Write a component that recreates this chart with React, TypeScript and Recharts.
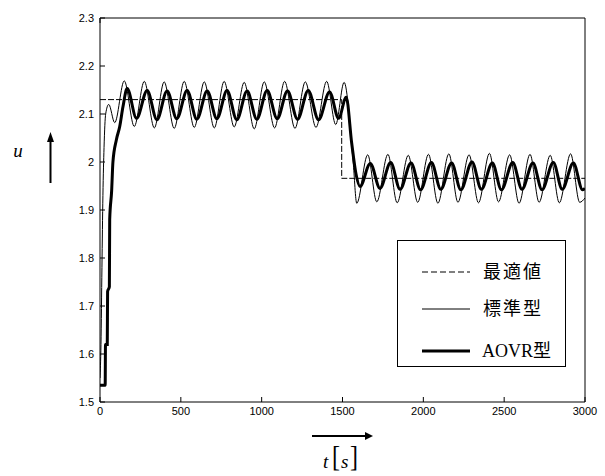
import React from 'react';
import { LineChart, Line, XAxis, YAxis, Legend } from 'recharts';

const X_TICKS = [0, 500, 1000, 1500, 2000, 2500, 3000];
const X_TICK_LABELS = ['0', '500', '1000', '1500', '2000', '2500', '3000'];
const Y_TICKS = [1.5, 1.6, 1.7, 1.8, 1.9, 2.0, 2.1, 2.2, 2.3];
const Y_TICK_LABELS = ['1.5', '1.6', '1.7', '1.8', '1.9', '2', '2.1', '2.2', '2.3'];

const SERIES_NAMES = ['最適値', '標準型', 'AOVR型'];

// 最適値 (step)
const optT = [0, 1495, 1495, 3000];
const optU = [2.13, 2.13, 1.966, 1.966];

// 標準型
const stdT = [
  0, 6, 12, 18, 25, 35, 54, 91, 150, 212, 274, 336, 397, 459, 521, 583, 645, 707, 768, 830,
  892, 954, 1016, 1080, 1142, 1206, 1270, 1336, 1402, 1458, 1510, 1566, 1588, 1656, 1712, 1781,
  1838, 1907, 1965, 2032, 2090, 2158, 2214, 2283, 2341, 2409, 2465, 2534, 2592, 2660, 2716,
  2785, 2841, 2911, 2967, 3000,
];
const stdU = [
  1.55, 1.62, 1.78, 1.93, 2.03, 2.1, 2.12, 2.082, 2.169, 2.074, 2.168, 2.071, 2.167, 2.07, 2.168,
  2.072, 2.167, 2.071, 2.168, 2.073, 2.166, 2.069, 2.167, 2.071, 2.168, 2.07, 2.167, 2.072, 2.168,
  2.078, 2.166, 2.0, 1.914, 2.015, 1.917, 2.016, 1.915, 2.014, 1.916, 2.016, 1.914, 2.017, 1.916,
  2.015, 1.915, 2.018, 1.917, 2.015, 1.914, 2.016, 1.916, 2.014, 1.915, 2.017, 1.916, 1.925,
];

// AOVR型
const aovrT = [
  0, 32, 34, 45, 47, 58, 60, 72, 80, 101, 122, 142, 168, 226, 292, 352, 415, 475, 539, 599, 663,
  723, 786, 846, 910, 970, 1034, 1096, 1160, 1222, 1288, 1352, 1420, 1476, 1523, 1557, 1583,
  1608, 1672, 1732, 1798, 1856, 1924, 1983, 2050, 2108, 2175, 2232, 2301, 2359, 2427, 2483,
  2553, 2610, 2678, 2734, 2804, 2859, 2928, 2985, 3000,
];
const aovrU = [
  1.535, 1.535, 1.62, 1.62, 1.73, 1.74, 1.88, 1.94, 2.0, 2.046, 2.074, 2.115, 2.153, 2.091, 2.149,
  2.088, 2.148, 2.09, 2.149, 2.089, 2.148, 2.09, 2.149, 2.088, 2.148, 2.089, 2.149, 2.09, 2.148,
  2.089, 2.149, 2.088, 2.146, 2.091, 2.135, 2.039, 1.976, 1.949, 1.997, 1.945, 1.999, 1.943,
  1.998, 1.942, 1.999, 1.943, 1.998, 1.942, 2.0, 1.943, 1.998, 1.942, 1.999, 1.943, 1.998,
  1.942, 1.999, 1.943, 1.998, 1.942, 1.945,
];

const zip = (ts: number[], us: number[]) => ts.map((t, i) => ({ t, u: us[i] }));

const optData = zip(optT, optU);
const stdData = zip(stdT, stdU);
const aovrData = zip(aovrT, aovrU);

const TICK_FONT = { fontFamily: '"Liberation Sans", Arial, sans-serif', fontSize: 11, fill: '#000' };

const BottomTick = ({ x, y, payload }: any) => {
  const i = X_TICKS.indexOf(payload.value);
  return (
    <g>
      <line x1={x} x2={x} y1={y} y2={y - 5} stroke="#000" />
      <text x={x} y={y + 13} textAnchor="middle" style={TICK_FONT}>
        {X_TICK_LABELS[i]}
      </text>
    </g>
  );
};

const TopTick = ({ x, y }: any) => <line x1={x} x2={x} y1={y} y2={y + 5} stroke="#000" />;

const LeftTick = ({ x, y, payload }: any) => {
  const i = Y_TICKS.findIndex((v) => Math.abs(v - payload.value) < 1e-6);
  return (
    <g>
      <line x1={x} x2={x + 5} y1={y} y2={y} stroke="#000" />
      <text x={x - 6} y={y + 4} textAnchor="end" style={TICK_FONT}>
        {Y_TICK_LABELS[i]}
      </text>
    </g>
  );
};

const RightTick = ({ x, y }: any) => <line x1={x} x2={x - 5} y1={y} y2={y} stroke="#000" />;

const legendRows = [
  { name: SERIES_NAMES[0], dash: '6 3', width: 1.2, y: 32 },
  { name: SERIES_NAMES[1], dash: undefined, width: 1, y: 69 },
  { name: SERIES_NAMES[2], dash: undefined, width: 3.2, y: 111 },
];

const renderLegend = () => (
  <svg width={169} height={127} style={{ display: 'block' }}>
    <rect x={0.5} y={0.5} width={168} height={126} fill="#fff" stroke="#000" />
    {legendRows.map((r, i) => (
      <g key={i}>
        <line x1={25} x2={73} y1={r.y} y2={r.y} stroke="#000" strokeWidth={r.width} strokeDasharray={r.dash} />
        {i < 2 ? (
          <text x={86} y={r.y + 6} style={{ fontFamily: '"Noto Sans CJK JP"', fontSize: 18, letterSpacing: 2 }}>
            {r.name}
          </text>
        ) : (
          <text x={85} y={r.y + 6} style={{ fontSize: 18 }}>
            <tspan style={{ fontFamily: '"Liberation Serif", serif' }}>AOVR</tspan>
            <tspan style={{ fontFamily: '"Noto Sans CJK JP"' }}>型</tspan>
          </text>
        )}
      </g>
    ))}
  </svg>
);

const App = () => {
  return (
    <div style={{ position: 'absolute', left: 0, top: 0, width: 605, height: 476, background: '#fff' }}>
      <LineChart width={605} height={476} data={stdData} margin={{ top: 17, right: 19, bottom: 73, left: 99 }}>
        <XAxis
          dataKey="t"
          type="number"
          domain={[0, 3000]}
          ticks={X_TICKS}
          allowDataOverflow
          height={1}
          tickSize={0}
          tickMargin={0}
          tickLine={false}
          axisLine={{ stroke: '#000' }}
          tick={BottomTick}
          interval={0}
        />
        <XAxis
          xAxisId="top"
          orientation="top"
          type="number"
          domain={[0, 3000]}
          ticks={X_TICKS}
          height={1}
          tickSize={0}
          tickMargin={0}
          tickLine={false}
          axisLine={{ stroke: '#000' }}
          tick={TopTick}
          interval={0}
        />
        <YAxis
          type="number"
          domain={[1.5, 2.3]}
          ticks={Y_TICKS}
          allowDataOverflow
          width={1}
          tickSize={0}
          tickMargin={0}
          tickLine={false}
          axisLine={{ stroke: '#000' }}
          tick={LeftTick}
          interval={0}
        />
        <YAxis
          yAxisId="right"
          orientation="right"
          type="number"
          domain={[1.5, 2.3]}
          ticks={Y_TICKS}
          width={1}
          tickSize={0}
          tickMargin={0}
          tickLine={false}
          axisLine={{ stroke: '#000' }}
          tick={RightTick}
          interval={0}
        />
        <Line
          data={optData}
          dataKey="u"
          name={SERIES_NAMES[0]}
          type="linear"
          stroke="#000"
          strokeWidth={1}
          strokeDasharray="6 2"
          dot={false}
          activeDot={false}
          isAnimationActive={false}
        />
        <Line
          data={stdData}
          dataKey="u"
          name={SERIES_NAMES[1]}
          type="monotone"
          stroke="#000"
          strokeWidth={1}
          dot={false}
          activeDot={false}
          isAnimationActive={false}
        />
        <Line
          data={aovrData}
          dataKey="u"
          name={SERIES_NAMES[2]}
          type="monotone"
          stroke="#000"
          strokeWidth={3}
          dot={false}
          activeDot={false}
          isAnimationActive={false}
        />
        <Legend
          layout="vertical"
          align="center"
          verticalAlign="middle"
          content={renderLegend}
          wrapperStyle={{ left: 397, top: 240, width: 169, height: 127 }}
        />
      </LineChart>
      <svg
        width={605}
        height={476}
        style={{ position: 'absolute', left: 0, top: 0, pointerEvents: 'none' }}
      >
        <text x={18} y={157} textAnchor="middle" style={{ fontFamily: '"Liberation Serif", serif', fontStyle: 'italic', fontSize: 19 }}>
          u
        </text>
        <line x1={50.5} x2={50.5} y1={183} y2={141} stroke="#000" strokeWidth={2} />
        <polygon points="50.5,132 47,142 54,142" fill="#000" />
        <line x1={312} x2={366} y1={436} y2={436} stroke="#000" strokeWidth={2} />
        <polygon points="373,436 365,432 365,440" fill="#000" />
        <text x={323} y={468} style={{ fontFamily: '"Liberation Serif", serif', fontStyle: 'italic', fontSize: 19 }}>
          t
        </text>
        <text x={332} y={466} transform="translate(0,-93) scale(1,1.2)" style={{ fontFamily: '"Liberation Serif", serif', fontSize: 24 }}>
          [
        </text>
        <text x={341} y={468} style={{ fontFamily: '"Liberation Serif", serif', fontStyle: 'italic', fontSize: 19 }}>
          s
        </text>
        <text x={350} y={466} transform="translate(0,-93) scale(1,1.2)" style={{ fontFamily: '"Liberation Serif", serif', fontSize: 24 }}>
          ]
        </text>
      </svg>
    </div>
  );
};

export default App;
